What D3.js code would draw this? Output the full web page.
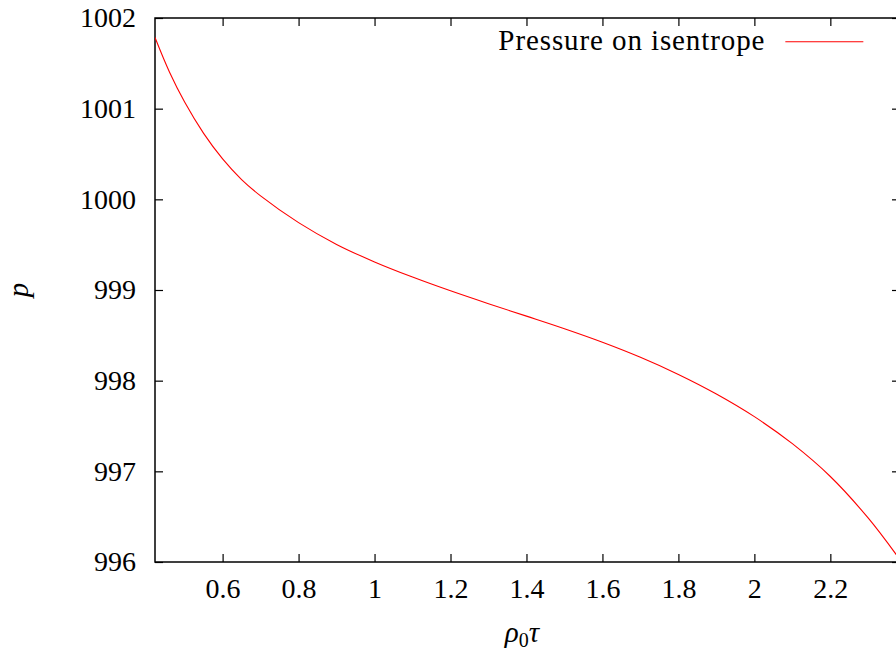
<!DOCTYPE html>
<html>
<head>
<meta charset="utf-8">
<script src="https://cdn.jsdelivr.net/npm/d3@7"></script>
<style>
  html, body { margin: 0; padding: 0; background: #fff; }
  svg { display: block; }
  .axis text { font-family: "Liberation Serif", "DejaVu Serif", serif; font-size: 28px; fill: #000; }
  .axis line { stroke: #000; stroke-width: 1.2px; }
</style>
</head>
<body>
<svg id="chart" width="896" height="655"></svg>
<script>
// values
const rhoTau = [0.422, 0.46, 0.5, 0.55, 0.6, 0.65, 0.7, 0.8, 0.9, 1.0, 1.1, 1.2,
                1.3, 1.4, 1.5, 1.6, 1.7, 1.8, 1.9, 2.0, 2.1, 2.2, 2.3, 2.383];
const pressure = [1001.785, 1001.405, 1001.073, 1000.728, 1000.446, 1000.218, 1000.038, 999.743,
                  999.503, 999.31, 999.143, 998.991, 998.849, 998.712, 998.573, 998.424,
                  998.258, 998.069, 997.853, 997.603, 997.305, 996.943, 996.483, 996.027];
const xTicks = [0.6, 0.8, 1.0, 1.2, 1.4, 1.6, 1.8, 2.0, 2.2];
const yTicks = [996, 997, 998, 999, 1000, 1001, 1002];
const seriesName = 'Pressure on isentrope';

const svg = d3.select('#chart'),
      margin = { top: 18, left: 155 },
      width = 745,
      height = 544,
      g = svg.append('g').attr('transform', `translate(${margin.left}, ${margin.top})`);

const x = d3.scaleLinear()
            .domain([0.422, 2.3834])
            .range([0, width]),
      y = d3.scaleLinear()
            .domain([996, 1002])
            .range([height, 0]);

const fmt = d => String(+d.toFixed(1));

// bottom axis with labels, ticks pointing inward
g.append('g')
  .attr('class', 'axis')
  .attr('transform', `translate(0, ${height})`)
  .call(d3.axisBottom(x).tickValues(xTicks).tickFormat(fmt).tickSizeInner(-8).tickSizeOuter(0).tickPadding(16));

// top mirror ticks
g.append('g')
  .attr('class', 'axis')
  .call(d3.axisTop(x).tickValues(xTicks).tickFormat('').tickSizeInner(-8).tickSizeOuter(0));

// left axis with labels
g.append('g')
  .attr('class', 'axis')
  .call(d3.axisLeft(y).tickValues(yTicks).tickFormat(d3.format('d')).tickSizeInner(-8).tickSizeOuter(0).tickPadding(19));

// right mirror ticks
g.append('g')
  .attr('class', 'axis')
  .attr('transform', `translate(${width}, 0)`)
  .call(d3.axisRight(y).tickValues(yTicks).tickFormat('').tickSizeInner(-8).tickSizeOuter(0));

g.selectAll('.axis .domain').remove();

g.append('rect')
  .attr('width', width)
  .attr('height', height)
  .attr('fill', 'none')
  .attr('stroke', '#000')
  .attr('stroke-width', 1.5);

g.append('clipPath')
  .attr('id', 'clip')
  .append('rect')
  .attr('width', width)
  .attr('height', height);

const line = d3.line()
  .x((d, i) => x(rhoTau[i]))
  .y(d => y(d))
  .curve(d3.curveCatmullRom.alpha(0.5));

g.append('path')
  .datum(pressure)
  .attr('clip-path', 'url(#clip)')
  .attr('fill', 'none')
  .attr('stroke', '#ff0000')
  .attr('stroke-width', 1.1)
  .attr('d', line);

// legend
const legend = g.append('g').attr('transform', `translate(${x(2.2) - 65}, 23.7)`);
legend.append('text')
  .attr('x', 0)
  .attr('y', 8.5)
  .attr('text-anchor', 'end')
  .attr('font-family', '"Liberation Serif", "DejaVu Serif", serif')
  .attr('font-size', 29)
  .attr('letter-spacing', 0.9)
  .text(seriesName);
legend.append('line')
  .attr('x1', 20)
  .attr('x2', 98)
  .attr('stroke', '#ff0000')
  .attr('stroke-width', 1.1);

// axis titles
svg.append('text')
  .attr('transform', 'translate(28, 290) rotate(-90)')
  .attr('text-anchor', 'middle')
  .attr('font-family', '"Liberation Serif", "DejaVu Serif", serif')
  .attr('font-style', 'italic')
  .attr('font-size', 29)
  .text('p');

const xt = svg.append('text')
  .attr('x', 522)
  .attr('y', 642)
  .attr('text-anchor', 'middle')
  .attr('font-family', '"Liberation Serif", "DejaVu Serif", serif')
  .attr('font-size', 29);
xt.append('tspan').attr('font-style', 'italic').text('ρ');
xt.append('tspan').attr('font-size', 20).attr('dy', 5).text('0');
xt.append('tspan').attr('font-style', 'italic').attr('dy', -5).text('τ');
</script>
</body>
</html>
